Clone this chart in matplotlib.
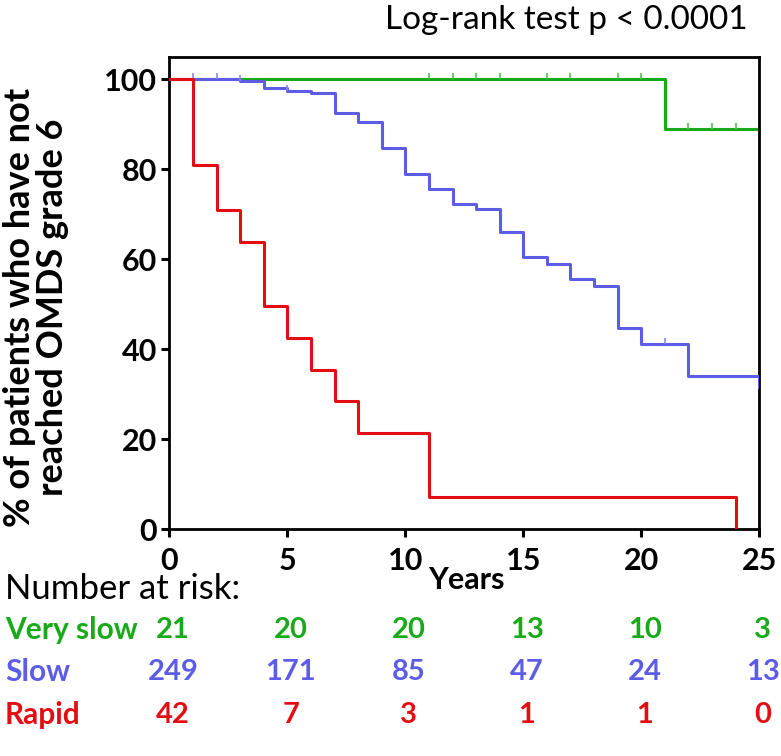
import numpy as np
import matplotlib
matplotlib.use('Agg')
import matplotlib.pyplot as plt
import matplotlib.transforms as mtransforms

plt.rcParams['font.family'] = ['Lato', 'DejaVu Sans']

# Courbes de Kaplan-Meier (temps en années, survie en %)
t_vslow = [0, 21, 25]
s_vslow = [100, 88.9, 88.9]
c_vslow_t = [11, 12, 13, 14, 16, 17, 19, 20, 22, 23, 24]
c_vslow_s = [100, 100, 100, 100, 100, 100, 100, 100, 88.9, 88.9, 88.9]

t_slow = [0, 3, 4, 5, 6, 7, 8, 9, 10, 11, 12, 13, 14, 15, 16, 17, 18, 19, 20, 22, 25]
s_slow = [100, 99.6, 98.0, 97.4, 96.9, 92.6, 90.4, 84.7, 78.9, 75.6, 72.2, 71.2,
          66.0, 60.4, 59.0, 55.6, 54.1, 44.7, 41.1, 34.1, 31.6]
c_slow_t = [1, 2, 3, 5, 21]
c_slow_s = [100, 100, 99.6, 97.4, 41.1]

t_rapid = [0, 1, 2, 3, 4, 5, 6, 7, 8, 11, 24]
s_rapid = [100, 81.0, 71.0, 63.8, 49.7, 42.6, 35.5, 28.4, 21.3, 7.1, 0]

# Nombre à risque
risk_years = [0, 5, 10, 15, 20, 25]
risk_names = ['Very slow', 'Slow', 'Rapid']
risk_vslow = [21, 20, 20, 13, 10, 3]
risk_slow = [249, 171, 85, 47, 24, 13]
risk_rapid = [42, 7, 3, 1, 1, 0]

green = '#18AA18'
blue = '#5C5CE6'
red = '#E20E14'

fig = plt.figure(figsize=(7.81, 7.56), dpi=100)
ax = fig.add_axes([0.2168, 0.2999, 0.7554, 0.6251])

ax.step(t_vslow, s_vslow, where='post', color=green, lw=2.2, zorder=2)
ax.step(t_slow, s_slow, where='post', color=blue, lw=2.2, zorder=3)
ax.step(t_rapid, s_rapid, where='post', color=red, lw=2.2, zorder=4)

tick_marker = [(0, 0), (0, 1)]
ax.plot(c_vslow_t, c_vslow_s, ls='none', marker=tick_marker, ms=8, mew=1.2,
        color='#55C055', zorder=2)
ax.plot(c_slow_t, c_slow_s, ls='none', marker=tick_marker, ms=8, mew=1.2,
        color='#8A8AE8', zorder=3)

ax.set_xlim(0, 25)
ax.set_ylim(0, 105)
ax.set_xticks(risk_years)
ax.set_yticks(np.arange(0, 101, 20))

for s in ax.spines.values():
    s.set_linewidth(2.0)
    s.set_color('black')

ax.tick_params(axis='both', which='major', direction='out', length=6, width=2.2,
               labelsize=22)
ax.tick_params(axis='x', pad=7)
ax.tick_params(axis='y', pad=3)
for lab in ax.get_xticklabels() + ax.get_yticklabels():
    lab.set_fontweight('bold')

fig.text(466 / 781, 1 - 580 / 756, 'Years', ha='center', va='center',
         fontsize=22, fontweight='bold')

fig.text(36 / 781, 1 - 307 / 756, '% of patients who have not\nreached OMDS grade 6',
         rotation=90, ha='center', va='center', fontsize=26, fontweight='bold',
         multialignment='center', linespacing=0.98)

fig.text(748 / 781, 1 - 29 / 756, 'Log-rank test p < 0.0001', ha='right',
         va='baseline', fontsize=24)

# Tableau des patients à risque
trans = mtransforms.blended_transform_factory(ax.transData, fig.transFigure)
fig.text(5 / 781, 1 - 589 / 756, 'Number at risk:', ha='left', va='center', fontsize=25)

rows = [risk_vslow, risk_slow, risk_rapid]
cols = [green, blue, red]
ys = [630, 672, 715]
for name, vals, c, yy in zip(risk_names, rows, cols, ys):
    fig.text(5 / 781, 1 - yy / 756, name, ha='left', va='center', fontsize=21.5,
             fontweight='bold', color=c)
    for xv, v in zip(risk_years, vals):
        ax.text(xv + 0.15, 1 - yy / 756, str(v), transform=trans, ha='center',
                va='center', fontsize=21, fontweight='bold', color=c)

fig.savefig('out.png', dpi=100)
